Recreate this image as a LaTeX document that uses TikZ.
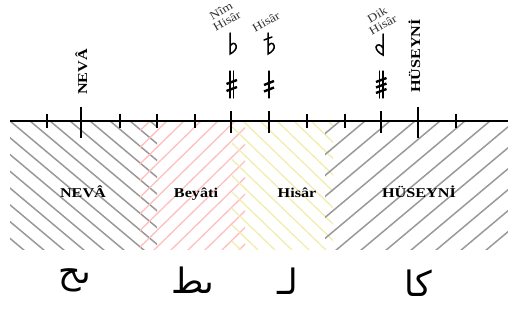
\documentclass[tikz,border=0pt]{standalone}
\usepackage{fontspec}
\setmainfont{Liberation Serif}
\newfontfamily\widefont[FakeStretch=1.2]{Liberation Serif}
\newfontfamily\arabicfont[Script=Arabic]{DejaVu Sans}
\TeXXeTstate=1
\tikzset{
  grayhatch/.style={draw=black!40, line width=1.5pt},
  redhatch/.style={draw=red!25!white, line width=1.3pt},
  yelhatch/.style={draw=yellow!55!olive!28!white, line width=1.3pt},
  axisline/.style={line width=1.4pt},
  ticksmall/.style={line width=2pt},
  acc/.style={line width=1.5pt, line cap=round},
  accbar/.style={line width=2.4pt},
  biglabel/.style={font=\widefont\bfseries\fontsize{13.5}{16}\selectfont, inner sep=0pt, anchor=base},
  smalllabel/.style={font=\widefont\fontsize{11.5}{11.5}\selectfont, align=center, rotate=30, inner sep=0pt, text=black!80},
  arlabel/.style={font=\arabicfont\fontsize{35}{40}\selectfont, inner sep=0pt}
}
\begin{document}
\begin{tikzpicture}[x=1pt,y=-1pt]
\useasboundingbox (0,0) rectangle (508,323);
% hatch regions
\begin{scope}
  \clip (10,121) rectangle (157,249);
  \foreach \i in {-150,-130,...,160} \draw[grayhatch] (\i,121) -- ++(155,130);
\end{scope}
\begin{scope}
  \clip (140,121) rectangle (245,249);
  \foreach \i in {0,17,...,250} \draw[redhatch] (\i,251) -- ++(135,-132);
\end{scope}
\begin{scope}
  \clip (232,121) rectangle (333,249);
  \foreach \i in {90,107,...,340} \draw[yelhatch] (\i,121) -- ++(135,130);
\end{scope}
\begin{scope}
  \clip (325,121) rectangle (508,249);
  \foreach \i in {160,185,...,520} \draw[grayhatch] (\i,251) -- ++(155,-130);
\end{scope}
% axis
\coordinate (axL) at (10,121);
\coordinate (axR) at (508,121);
\draw[axisline] (axL) -- (axR);
\foreach \x in {47,120,157,195,307,345,456} \draw[ticksmall] (\x,114) -- (\x,128);
\foreach \x in {231,269,381} \draw[ticksmall] (\x,111) -- (\x,133);
\foreach \x in {81,418} \draw[ticksmall] (\x,107) -- (\x,138);
% vertical labels
\node[biglabel, rotate=90] (vneva) at (87,72) {NEVÂ};
\node[biglabel, rotate=90] (vhus) at (420,56) {HÜSEYNİ};
% small rotated labels
\node[smalllabel] (nim) at (224,16) {Nîm\\Hisâr};
\node[smalllabel] (his) at (266,22) {Hisâr};
\node[smalllabel] (dik) at (380,20) {Dik\\Hisâr};
% flats
\draw[acc] (230,33) -- (230,54) .. controls (234,52) and (237,49) .. (236,45.5) .. controls (235,42) and (231.5,43) .. (230,46.5);
\draw[acc] (268,33) -- (268,54) .. controls (272,52) and (275,49) .. (274,45.5) .. controls (273,42) and (269.5,43) .. (268,46.5);
\draw[acc] (264,40) -- (272,37);
\draw[acc] (383,34) -- (383,55) .. controls (379,53) and (376,50) .. (376,47) .. controls (377,43.5) and (381,44.5) .. (383,48);
% sharps
\draw[acc, line width=1.1pt] (230,71) -- (230,98) (233.5,71) -- (233.5,98);
\draw[accbar] (226.5,84) -- (237,80) (226.5,91) -- (237,87);
\draw[acc, line width=1.1pt] (269,71) -- (269,98);
\draw[accbar] (264,85) -- (274,81) (264,91.5) -- (274,87.5);
\draw[acc, line width=1.1pt] (379.5,71) -- (379.5,98) (383,71) -- (383,98);
\draw[accbar] (376,82) -- (386.5,78) (376,87.5) -- (386.5,83.5) (376,93) -- (386.5,89);
% region labels
\node[biglabel] (lneva) at (83,197) {NEVÂ};
\node[biglabel] (lbey) at (196,197) {Beyâti};
\node[biglabel] (lhis) at (297,197) {Hisâr};
\node[biglabel] (lhus) at (419,197) {HÜSEYNİ};
% arabic
\node[arlabel] (a1) at (75,280) {\beginR ىح\endR};
\node[arlabel] (a2) at (193,280) {\beginR ىط\endR};
\node[arlabel] (a3) at (288,281) {\beginR لـ\endR};
\node[arlabel] (a4) at (418,283) {\beginR کا\endR};
\end{tikzpicture}
\end{document}
